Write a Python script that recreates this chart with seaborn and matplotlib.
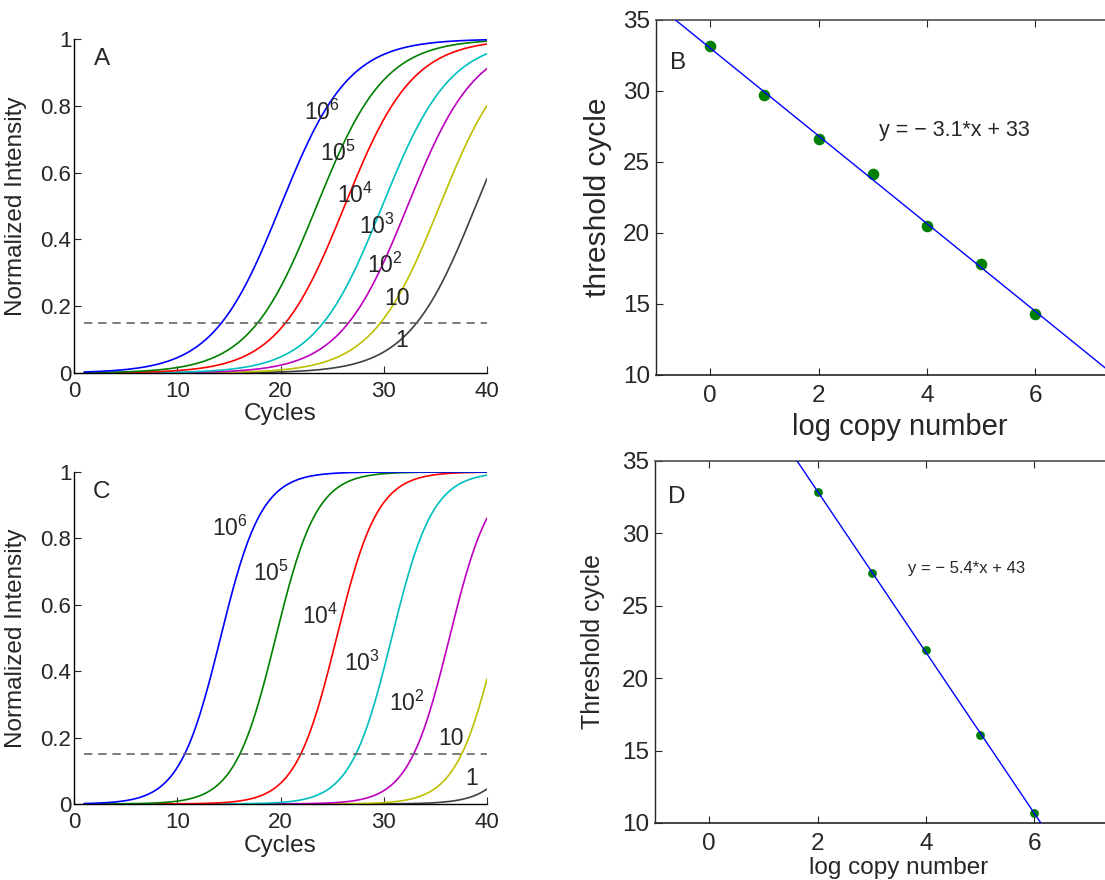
import numpy as np
import pandas as pd
import matplotlib
matplotlib.use("Agg")
import matplotlib.pyplot as plt
import matplotlib.ticker as mticker
import seaborn as sns

# copy numbers (log10) and the curve labels
log_copies = [0, 1, 2, 3, 4, 5, 6]
curve_labels = ["1", "10", r"$\mathregular{10^2}$", r"$\mathregular{10^3}$",
                r"$\mathregular{10^4}$", r"$\mathregular{10^5}$", r"$\mathregular{10^6}$"]
curve_colors = ["#404040", "#bfbf00", "#bf00bf", "#00bfbf", "#ff0000", "#008000", "#0000ff"]

# panel A: sigmoid midpoints (cycles) and width
mid_a = [38.9, 35.4, 32.3, 29.85, 26.2, 23.5, 20.0]
width_a = 3.3
# panel C
mid_c = [46.1, 41.0, 36.35, 30.76, 25.42, 19.52, 14.18]
width_c = 2.0

threshold = 0.15

# panel B: threshold cycle per log copy number
ct_b_x = [0, 1, 2, 3, 4, 5, 6]
ct_b_y = [33.19, 29.71, 26.59, 24.12, 20.5, 17.8, 14.32]
# panel D
ct_d_x = [2, 3, 4, 5, 6]
ct_d_y = [32.88, 27.29, 21.95, 16.05, 10.71]

# label positions on the curves (cycle, intensity)
lab_a_x = [31.7, 31.3, 30.1, 29.3, 27.2, 25.6, 24.0]
lab_a_y = [0.098, 0.223, 0.323, 0.438, 0.532, 0.657, 0.78]
lab_c_x = [38.5, 36.5, 32.2, 27.9, 23.8, 19.1, 15.1]
lab_c_y = [0.078, 0.196, 0.304, 0.424, 0.564, 0.694, 0.83]

sns.set_style("ticks")
plt.rcParams["font.family"] = ["Liberation Sans", "DejaVu Sans"]
plt.rcParams["mathtext.fontset"] = "custom"
plt.rcParams["mathtext.rm"] = "Liberation Sans"
plt.rcParams["xtick.direction"] = "in"
plt.rcParams["ytick.direction"] = "in"

cycles = np.linspace(1, 40, 300)


def curve_frame(mids, width):
    rows = []
    for lab, m in zip(curve_labels, mids):
        y = 1.0 / (1.0 + np.exp(-(cycles - m) / width))
        rows.append(pd.DataFrame({"cycle": cycles, "intensity": y, "copies": lab}))
    return pd.concat(rows, ignore_index=True)


def curve_panel(ax, mids, width, lab_x, lab_y, letter, xlab_y):
    df = curve_frame(mids, width)
    sns.lineplot(data=df, x="cycle", y="intensity", hue="copies",
                 palette=dict(zip(curve_labels, curve_colors)), linewidth=1.2,
                 legend=False, ax=ax)
    sns.lineplot(x=[1, 40], y=[threshold, threshold], color="0.4",
                 linestyle=(0, (5, 3.5)), linewidth=1.2, ax=ax)
    for lab, x, y in zip(curve_labels, lab_x, lab_y):
        ax.text(x, y, lab, fontsize=16.5, ha="center", va="center")
    ax.text(2.7, 0.94, letter, fontsize=17.5, ha="center", va="center")
    ax.set_xlim(0, 40)
    ax.set_ylim(0, 1)
    ax.set_xticks([0, 10, 20, 30, 40])
    ax.set_yticks([0, 0.2, 0.4, 0.6, 0.8, 1])
    ax.yaxis.set_major_formatter(mticker.FormatStrFormatter("%g"))
    ax.tick_params(labelsize=16, length=5, width=0.8)
    ax.tick_params(axis="x", pad=6)
    ax.tick_params(axis="y", pad=2)
    ax.set_xlabel("Cycles", fontsize=17.5)
    ax.set_ylabel("Normalized Intensity", fontsize=17.5)
    ax.xaxis.set_label_coords(0.5, xlab_y)
    ax.yaxis.set_label_coords(-0.114, 0.5)
    sns.despine(ax=ax)
    for s in ["left", "bottom"]:
        ax.spines[s].set_linewidth(1.0)
        ax.spines[s].set_color("black")


def ct_panel(ax, xs, ys, dot, eq, eq_x, eq_y, eq_size, letter, letter_y, ylab, lab_size, tick_size):
    ax.set_xlim(-1, 8)
    ax.set_ylim(10, 35)
    sns.regplot(x=xs, y=ys, ci=None, truncate=False, ax=ax,
                scatter_kws={"s": dot, "color": "#008000", "alpha": 1,
                             "linewidths": 0, "zorder": 2},
                line_kws={"color": "#0000ff", "linewidth": 1.0, "zorder": 3})
    ax.set_xlim(-1, 8)
    ax.set_ylim(10, 35)
    ax.text(eq_x, eq_y, eq, fontsize=eq_size, ha="left", va="center")
    ax.text(-0.6, letter_y, letter, fontsize=17.5, ha="center", va="center")
    ax.set_xticks([0, 2, 4, 6])
    ax.set_yticks([10, 15, 20, 25, 30, 35])
    ax.tick_params(labelsize=tick_size, length=5, width=0.8, top=True)
    ax.tick_params(axis="x", pad=7)
    ax.tick_params(axis="y", pad=4.5)
    ax.set_xlabel("log copy number", fontsize=lab_size[0])
    ax.set_ylabel(ylab, fontsize=lab_size[1])
    ax.spines["top"].set_color("0.3")
    ax.spines["bottom"].set_linewidth(1.2)
    ax.spines["left"].set_linewidth(1.0)
    ax.spines["top"].set_linewidth(1.2)


fig = plt.figure(figsize=(11.05, 8.8), dpi=100)
ax_a = fig.add_axes([0.0670, 0.5761, 0.3738, 0.3796])
ax_c = fig.add_axes([0.0670, 0.0864, 0.3738, 0.3773])
ax_b = fig.add_axes([0.5937, 0.5739, 0.4414, 0.4034])
ax_d = fig.add_axes([0.5928, 0.0648, 0.4414, 0.4114])

curve_panel(ax_a, mid_a, width_a, lab_a_x, lab_a_y, "A", -0.09)
curve_panel(ax_c, mid_c, width_c, lab_c_x, lab_c_y, "C", -0.093)

ct_panel(ax_b, ct_b_x, ct_b_y, 70, "y = \u2212 3.1*x + 33", 3.12, 27.25, 15.5,
         "B", 32.0, "threshold cycle", (21, 21.5), 17.5)
ax_b.xaxis.set_label_coords(0.5, -0.107)
ax_b.yaxis.set_label_coords(-0.090, 0.5)

ct_panel(ax_d, ct_d_x, ct_d_y, 40, "y = \u2212 5.4*x + 43", 3.66, 27.6, 12,
         "D", 32.5, "Threshold cycle", (17.5, 18), 17.5)
ax_d.xaxis.set_label_coords(0.5, -0.094)
ax_d.yaxis.set_label_coords(-0.102, 0.5)

fig.savefig("out.png", dpi=100)
